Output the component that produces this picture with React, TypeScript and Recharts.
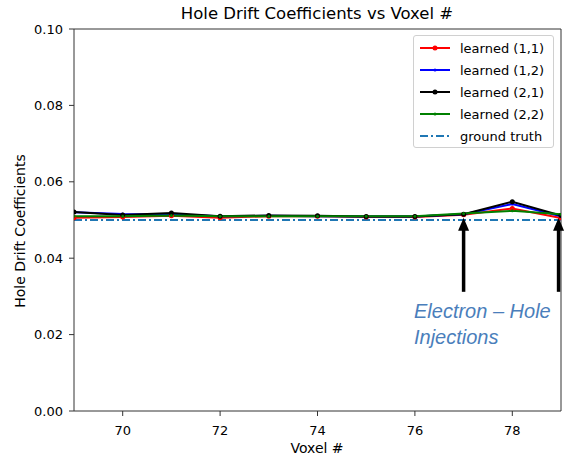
import React from "react";
import { LineChart, Line, XAxis, YAxis, ReferenceLine } from "recharts";

const voxels = [69, 70, 71, 72, 73, 74, 75, 76, 77, 78, 79];
const learned11 = [0.0506, 0.0508, 0.0511, 0.0506, 0.051, 0.051, 0.0508, 0.0508, 0.0514, 0.053, 0.0505];
const learned12 = [0.052, 0.0516, 0.0515, 0.051, 0.0511, 0.051, 0.0509, 0.0509, 0.0515, 0.0542, 0.051];
const learned21 = [0.0521, 0.0513, 0.0518, 0.051, 0.0512, 0.0511, 0.0509, 0.0509, 0.0515, 0.0548, 0.0512];
const learned22 = [0.051, 0.051, 0.0512, 0.051, 0.051, 0.051, 0.051, 0.051, 0.0517, 0.0524, 0.0515];
const groundTruth = [0.05, 0.05, 0.05, 0.05, 0.05, 0.05, 0.05, 0.05, 0.05, 0.05, 0.05];

const xTicks = [70, 72, 74, 76, 78];
const yTicks = [0, 0.02, 0.04, 0.06, 0.08, 0.1];

const data = voxels.map((v, i) => ({
  voxel: v,
  l11: learned11[i],
  l12: learned12[i],
  l21: learned21[i],
  l22: learned22[i],
  gt: groundTruth[i],
}));

const series = [
  { key: "l11", name: "learned (1,1)", color: "#ff0000", r: 2.5 },
  { key: "l12", name: "learned (1,2)", color: "#0000ff", r: 1.5 },
  { key: "l21", name: "learned (2,1)", color: "#000000", r: 2.5 },
  { key: "l22", name: "learned (2,2)", color: "#008000", r: 1.5 },
];

const font = "'DejaVu Sans', sans-serif";
const spine = "#333";

const Arrow = (props: any) => {
  const { x1, y1, y2 } = props;
  const top = Math.min(y1, y2);
  const bottom = Math.max(y1, y2);
  return (
    <g>
      <line x1={x1} y1={bottom} x2={x1} y2={top + 10} stroke="#000" strokeWidth={3.5} />
      <polygon points={`${x1},${top} ${x1 - 5.5},${top + 13} ${x1 + 5.5},${top + 13}`} fill="#000" />
    </g>
  );
};

const LegendBox = () => (
  <div
    style={{
      position: "absolute",
      left: 413,
      top: 35,
      width: 141,
      height: 113,
      boxSizing: "border-box",
      border: "1px solid #d0d0d0",
      borderRadius: 3,
      background: "#fff",
      padding: "1px 0 0 6px",
      fontFamily: font,
      fontSize: 13,
      color: "#000",
    }}
  >
    {series.map((s) => (
      <div key={s.key} style={{ display: "flex", alignItems: "center", height: 22 }}>
        <svg width={30} height={10} style={{ marginRight: 10 }}>
          <line x1={0} y1={5} x2={30} y2={5} stroke={s.color} strokeWidth={2} />
          <circle cx={15} cy={5} r={s.r} fill={s.color} />
        </svg>
        <span>{s.name}</span>
      </div>
    ))}
    <div style={{ display: "flex", alignItems: "center", height: 22 }}>
      <svg width={30} height={10} style={{ marginRight: 10 }}>
        <line x1={0} y1={5} x2={30} y2={5} stroke="#1f77b4" strokeWidth={2} strokeDasharray="8 3 2 3" />
      </svg>
      <span>ground truth</span>
    </div>
  </div>
);

export default function App() {
  return (
    <div style={{ position: "absolute", left: 0, top: 0, width: 569, height: 464, background: "#fff" }}>
      <LineChart width={569} height={464} data={data} margin={{ top: 29, right: 8, bottom: 0, left: 0 }}>
        <XAxis
          dataKey="voxel"
          type="number"
          domain={[69, 79]}
          ticks={xTicks}
          allowDataOverflow
          height={53}
          tickSize={5}
          tickMargin={10}
          stroke={spine}
          tick={{ fill: "#000", fontSize: 13, fontFamily: font }}
        />
        <YAxis
          type="number"
          domain={[0, 0.1]}
          ticks={yTicks}
          allowDataOverflow
          width={74}
          tickSize={5}
          tickMargin={6}
          stroke={spine}
          tickFormatter={(v: number) => v.toFixed(2)}
          tick={{ fill: "#000", fontSize: 13, fontFamily: font }}
        />
        <ReferenceLine y={0.1} stroke={spine} strokeWidth={1} />
        <ReferenceLine x={79} stroke={spine} strokeWidth={1} />
        {series.map((s) => (
          <Line
            key={s.key}
            dataKey={s.key}
            name={s.name}
            stroke={s.color}
            strokeWidth={2}
            dot={{ r: s.r, fill: s.color, stroke: s.color, strokeWidth: 0 }}
            activeDot={false}
            isAnimationActive={false}
          />
        ))}
        <Line
          dataKey="gt"
          name="ground truth"
          stroke="#1f77b4"
          strokeWidth={2}
          strokeDasharray="8 3 2 3"
          dot={false}
          activeDot={false}
          isAnimationActive={false}
        />
        <ReferenceLine segment={[{ x: 77, y: 0.0312 }, { x: 77, y: 0.0506 }]} shape={Arrow} />
        <ReferenceLine segment={[{ x: 78.95, y: 0.0312 }, { x: 78.95, y: 0.0506 }]} shape={Arrow} />
      </LineChart>
      <svg width={569} height={464} style={{ position: "absolute", left: 0, top: 0, pointerEvents: "none" }}>
        <text x={317} y={19} textAnchor="middle" fontFamily={font} fontSize={16.5} fill="#000">
          Hole Drift Coefficients vs Voxel #
        </text>
        <text x={317} y={453} textAnchor="middle" fontFamily={font} fontSize={14} fill="#000">
          Voxel #
        </text>
        <text
          x={0}
          y={0}
          transform="translate(25,231) rotate(-90)"
          textAnchor="middle"
          fontFamily={font}
          fontSize={14}
          fill="#000"
        >
          Hole Drift Coefficients
        </text>
      </svg>
      <LegendBox />
      <div
        style={{
          position: "absolute",
          left: 414,
          top: 298,
          fontFamily: "'Liberation Sans', Arial, sans-serif",
          fontStyle: "italic",
          fontSize: 20,
          lineHeight: "26px",
          color: "#4a7ebb",
        }}
      >
        Electron – Hole
        <br />
        Injections
      </div>
    </div>
  );
}
